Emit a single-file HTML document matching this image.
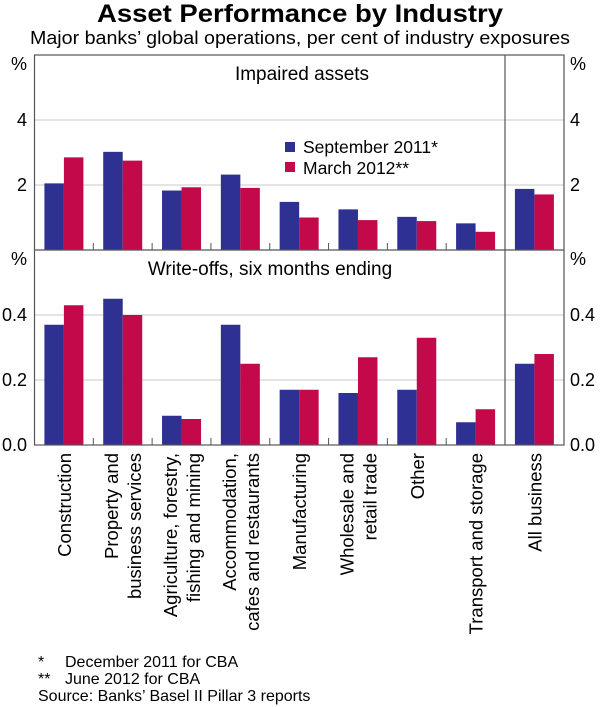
<!DOCTYPE html>
<html><head><meta charset="utf-8"><style>
body{margin:0;background:#fff;}
svg{display:block;font-family:"Liberation Sans",Arial,sans-serif;}
</style></head><body>
<svg id="chart" width="600" height="707" viewBox="0 0 600 707" xmlns="http://www.w3.org/2000/svg">
<text x="300" y="22" text-anchor="middle" font-size="25" font-weight="bold" fill="#000" textLength="406" lengthAdjust="spacingAndGlyphs">Asset Performance by Industry</text>
<text x="300" y="44" text-anchor="middle" font-size="18" fill="#000" textLength="540" lengthAdjust="spacingAndGlyphs">Major banks’ global operations, per cent of industry exposures</text>
<g id="grid"></g>
<g id="bars"></g>
<g id="frame"></g>
<g id="labels"></g>
<g>
<rect x="285" y="142" width="10" height="10" fill="#2e3192"/>
<text x="303" y="153" font-size="17.5">September 2011*</text>
<rect x="285" y="162" width="10" height="10" fill="#c3094a"/>
<text x="303" y="174" font-size="17.5">March 2012**</text>
</g>
<text x="302" y="80" text-anchor="middle" font-size="19">Impaired assets</text>
<text x="270" y="275" text-anchor="middle" font-size="19">Write-offs, six months ending</text>
<g font-size="16">
<text x="38" y="667">*</text><text x="65" y="667">December 2011 for CBA</text>
<text x="38" y="684">**</text><text x="65" y="684">June 2012 for CBA</text>
<text x="38" y="701">Source: Banks’ Basel II Pillar 3 reports</text>
</g>
</svg>
<script>
const categories=[["Construction"],["Property and","business services"],["Agriculture, forestry,","fishing and mining"],["Accommodation,","cafes and restaurants"],["Manufacturing"],["Wholesale and","retail trade"],["Other"],["Transport and storage"],["All business"]];
const impairedSep=[2.05,3.02,1.83,2.32,1.48,1.25,1.02,0.82,1.88];
const impairedMar=[2.85,2.75,1.93,1.91,1.0,0.92,0.89,0.56,1.71];
const writeSep=[0.37,0.45,0.09,0.37,0.17,0.16,0.17,0.07,0.25];
const writeMar=[0.43,0.40,0.08,0.25,0.17,0.27,0.33,0.11,0.28];
const topTicks=[2,4];
const botTicks=[0.0,0.2,0.4];
const botTickLabels=["0.0","0.2","0.4"];

const NS="http://www.w3.org/2000/svg";
const L=34.5,R=564,T=55,MID=250,B=445,DIV=505;
const cw=(DIV-L)/8;
function xc(i){return L+cw*(i+0.5);}
function yTop(v){return MID-v*32.5;}
function yBot(v){return B-v*325;}
function mk(tag,attrs,parent){const e=document.createElementNS(NS,tag);for(const k in attrs)e.setAttribute(k,attrs[k]);document.getElementById(parent).appendChild(e);return e;}

topTicks.forEach(t=>{const e=mk('line',{x1:L,x2:R,y1:yTop(t),y2:yTop(t),stroke:'#c8c8c8','stroke-width':1},'grid');

});
botTicks.forEach(t=>{if(t===0)return;const e=mk('line',{x1:L,x2:R,y1:yBot(t),y2:yBot(t),stroke:'#c8c8c8','stroke-width':1},'grid');

});

const bw=19.5;
function drawBars(sep,mar,yf,zero,name){
 sep.forEach((v,i)=>{const x=xc(i)-bw;const e=mk('rect',{x:x,y:yf(v),width:bw,height:zero-yf(v),fill:'#2e3192'},'bars');
 
 });
 mar.forEach((v,i)=>{const x=xc(i);const e=mk('rect',{x:x,y:yf(v),width:bw,height:zero-yf(v),fill:'#c3094a'},'bars');
 
 });
}
drawBars(impairedSep,impairedMar,yTop,MID,'impaired');
drawBars(writeSep,writeMar,yBot,B,'writeoff');

const f=mk('rect',{x:L,y:T,width:R-L,height:B-T,fill:'none',stroke:'#555','stroke-width':1.2},'frame');


const sp=mk('line',{x1:L,x2:R,y1:MID,y2:MID,stroke:'#555','stroke-width':1.2},'frame');


const dv=mk('line',{x1:DIV,x2:DIV,y1:T,y2:B,stroke:'#555','stroke-width':1.2},'frame');


for(let i=1;i<8;i++){const x=L+cw*i;
 const t1=mk('line',{x1:x,x2:x,y1:B,y2:B-7,stroke:'#555','stroke-width':1},'frame');
 
 
 const t2=mk('line',{x1:x,x2:x,y1:MID,y2:MID-7,stroke:'#555','stroke-width':1},'frame');
 
 }

function ylab(txt,y,name){
 const a=mk('text',{x:27,y:y+6,'text-anchor':'end','font-size':18},'labels');a.textContent=txt;
 
 
 const b=mk('text',{x:570,y:y+6,'text-anchor':'start','font-size':18},'labels');b.textContent=txt;
 
 
}
ylab('%',64,'top-unit');
topTicks.forEach(t=>ylab(String(t),yTop(t),'top-tick-label'));
ylab('%',259,'bottom-unit');
botTicks.forEach((t,i)=>ylab(botTickLabels[i],yBot(t),'bottom-tick-label'));

categories.forEach((lines,i)=>{
 const cx=i<8?xc(i):(DIV+R)/2;
 const n=lines.length;
 lines.forEach((s,j)=>{
  const x=cx+7+(j-(n-1)/2)*23;
  const e=mk('text',{x:0,y:0,'text-anchor':'end','font-size':18.5,transform:`translate(${x},453) rotate(-90)`},'labels');
  e.textContent=s;
  
  
 });
});
</script>
</body></html>
